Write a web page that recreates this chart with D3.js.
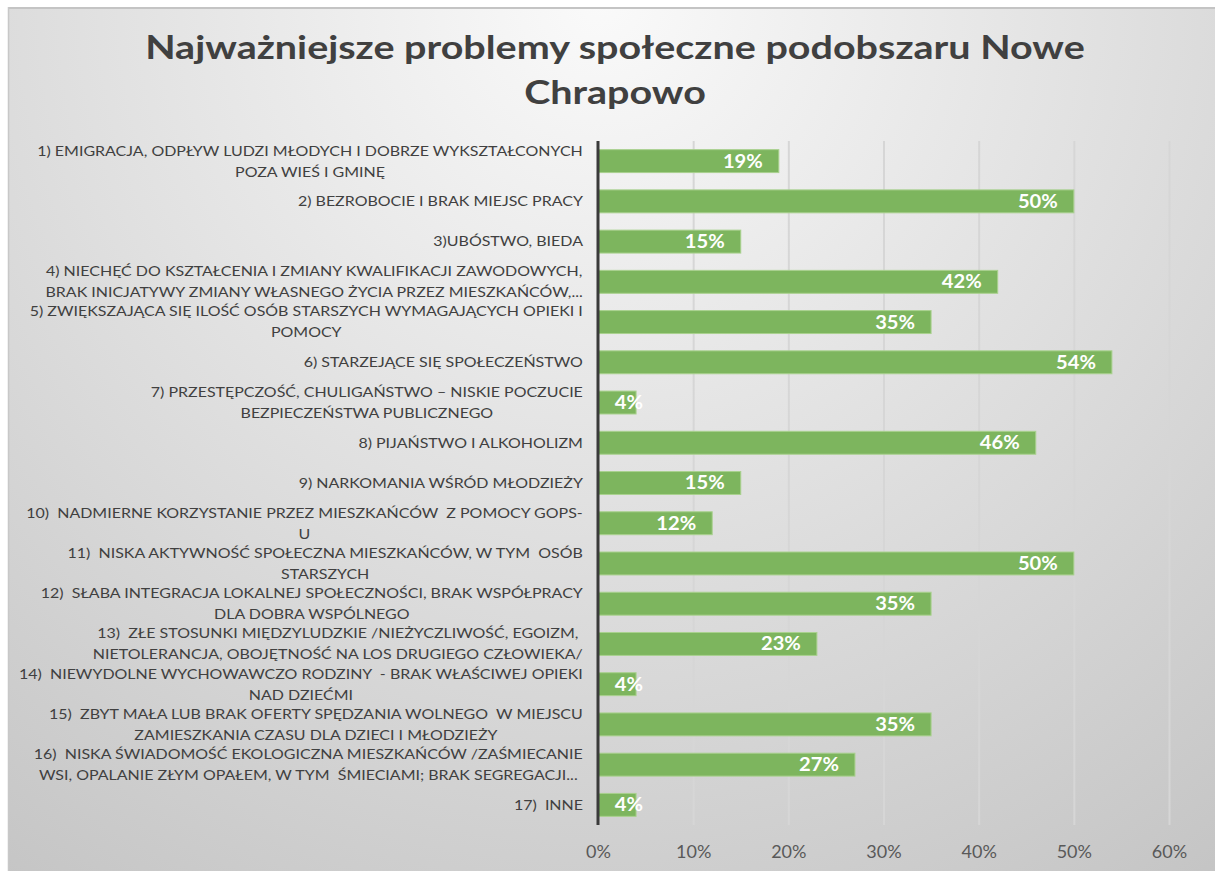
<!DOCTYPE html>
<html>
<head>
<meta charset="utf-8">
<script src="https://cdn.jsdelivr.net/npm/d3@7"></script>
<style>
  body { margin: 0; background: #fff; }
  svg { display: block; }
  .cat { white-space: pre; }
</style>
</head>
<body>
<div id="chart"></div>
<script>
// chart data
const titleLines = ["Najważniejsze problemy społeczne podobszaru Nowe", "Chrapowo"];

const categories = [
    "1) EMIGRACJA, ODPŁYW LUDZI MŁODYCH I DOBRZE WYKSZTAŁCONYCH\nPOZA WIEŚ I GMINĘ",
    "2) BEZROBOCIE I BRAK MIEJSC PRACY",
    "3)UBÓSTWO, BIEDA",
    "4) NIECHĘĆ DO KSZTAŁCENIA I ZMIANY KWALIFIKACJI ZAWODOWYCH,\nBRAK INICJATYWY ZMIANY WŁASNEGO ŻYCIA PRZEZ MIESZKAŃCÓW,...",
    "5) ZWIĘKSZAJĄCA SIĘ ILOŚĆ OSÓB STARSZYCH WYMAGAJĄCYCH OPIEKI I\nPOMOCY",
    "6) STARZEJĄCE SIĘ SPOŁECZEŃSTWO",
    "7) PRZESTĘPCZOŚĆ, CHULIGAŃSTWO – NISKIE POCZUCIE\nBEZPIECZEŃSTWA PUBLICZNEGO",
    "8) PIJAŃSTWO I ALKOHOLIZM",
    "9) NARKOMANIA WŚRÓD MŁODZIEŻY",
    "10)  NADMIERNE KORZYSTANIE PRZEZ MIESZKAŃCÓW  Z POMOCY GOPS-\nU",
    "11)  NISKA AKTYWNOŚĆ SPOŁECZNA MIESZKAŃCÓW, W TYM  OSÓB\nSTARSZYCH",
    "12)  SŁABA INTEGRACJA LOKALNEJ SPOŁECZNOŚCI, BRAK WSPÓŁPRACY\nDLA DOBRA WSPÓLNEGO",
    "13)  ZŁE STOSUNKI MIĘDZYLUDZKIE /NIEŻYCZLIWOŚĆ, EGOIZM,\nNIETOLERANCJA, OBOJĘTNOŚĆ NA LOS DRUGIEGO CZŁOWIEKA/",
    "14)  NIEWYDOLNE WYCHOWAWCZO RODZINY  - BRAK WŁAŚCIWEJ OPIEKI\nNAD DZIEĆMI",
    "15)  ZBYT MAŁA LUB BRAK OFERTY SPĘDZANIA WOLNEGO  W MIEJSCU\nZAMIESZKANIA CZASU DLA DZIECI I MŁODZIEŻY",
    "16)  NISKA ŚWIADOMOŚĆ EKOLOGICZNA MIESZKAŃCÓW /ZAŚMIECANIE\nWSI, OPALANIE ZŁYM OPAŁEM, W TYM  ŚMIECIAMI; BRAK SEGREGACJI...",
    "17)  INNE"
];

const values = [0.19, 0.50, 0.15, 0.42, 0.35, 0.54, 0.04, 0.46, 0.15, 0.12, 0.50, 0.35, 0.23, 0.04, 0.35, 0.27, 0.04];

const xTicks = [0, 0.1, 0.2, 0.3, 0.4, 0.5, 0.6];

const W = 1215, H = 871;
const plot = {left: 598, right: 1169, top: 141, bottom: 825};
const font = "Lato, 'Open Sans', sans-serif";

let svg = d3.select("#chart").append("svg")
    .attr("width", W)
    .attr("height", H);

let defs = svg.append("defs");

// background, light at top centre, darker towards the bottom corners
let bg = defs.append("radialGradient")
    .attr("id", "bgGrad")
    .attr("gradientUnits", "userSpaceOnUse")
    .attr("cx", 600).attr("cy", 0).attr("r", 1100);
bg.append("stop").attr("offset", 0).attr("stop-color", "#fafafa");
bg.append("stop").attr("offset", 1).attr("stop-color", "#c3c3c3");

let gridGrad = defs.append("linearGradient")
    .attr("id", "gridGrad")
    .attr("gradientUnits", "userSpaceOnUse")
    .attr("x1", 0).attr("y1", plot.top).attr("x2", 0).attr("y2", plot.bottom);
gridGrad.append("stop").attr("offset", 0).attr("stop-color", "#d6d6d6");
gridGrad.append("stop").attr("offset", 1).attr("stop-color", "#8c8c8c");

svg.append("rect")
    .attr("x", 8).attr("y", 7)
    .attr("width", W - 8).attr("height", H - 7)
    .attr("fill", "url(#bgGrad)");

// frame lines top and left
svg.append("line")
    .attr("x1", 8).attr("x2", W).attr("y1", 8).attr("y2", 8)
    .attr("stroke", "#c4c4c4").attr("stroke-width", 2);
svg.append("line")
    .attr("x1", 8.5).attr("x2", 8.5).attr("y1", 7).attr("y2", H)
    .attr("stroke", "#c8c8c8").attr("stroke-width", 1.5);

// title (stretched to the width it has in the original)
let title = svg.append("g").attr("class", "title");
let titleText = title.selectAll("text")
    .data(titleLines)
    .enter()
    .append("text")
    .attr("x", 0)
    .attr("y", (d, i) => i * 45)
    .attr("text-anchor", "middle")
    .attr("font-family", font)
    .attr("font-weight", "bold")
    .attr("font-size", 32)
    .attr("fill", "#404040")
    .text(d => d);
let tw = titleText.nodes()[0].getComputedTextLength();
let sx = 940 / tw;
title.attr("transform", `translate(615, 59) scale(${sx}, 1)`);

// scales
let x = d3.scaleLinear()
    .domain([0, 0.6])
    .range([plot.left, plot.right]);

let y = d3.scaleBand()
    .domain(categories)
    .range([plot.top, plot.bottom])
    .paddingInner(0.43)
    .paddingOuter(0.215);

// gridlines
svg.append("g")
    .attr("class", "grid")
    .attr("transform", `translate(0, ${plot.bottom})`)
    .call(d3.axisBottom(x).tickValues(xTicks.slice(1)).tickSize(-(plot.bottom - plot.top)).tickFormat(""))
    .call(g => g.select(".domain").remove())
    .call(g => g.selectAll("line").attr("stroke", "url(#gridGrad)").attr("stroke-width", 2));

// x tick labels
svg.append("g")
    .attr("class", "x-axis")
    .attr("transform", `translate(0, ${plot.bottom})`)
    .call(d3.axisBottom(x).tickValues(xTicks).tickSize(0).tickPadding(20).tickFormat(d3.format(".0%")))
    .call(g => g.select(".domain").remove())
    .call(g => g.selectAll("text")
        .attr("font-family", font)
        .attr("font-size", 18)
        .attr("fill", "#595959"));

// bars
svg.selectAll(".bar")
    .data(values)
    .enter()
    .append("rect")
    .attr("class", "bar")
    .attr("x", x(0))
    .attr("y", (d, i) => y(categories[i]))
    .attr("width", d => x(d) - x(0))
    .attr("height", y.bandwidth())
    .attr("fill", "#7db55e")
    .attr("stroke", "#a9d18e")
    .attr("stroke-width", 1);

// y axis line
svg.append("line")
    .attr("x1", x(0)).attr("x2", x(0))
    .attr("y1", plot.top).attr("y2", plot.bottom)
    .attr("stroke", "#3a3a3a").attr("stroke-width", 3);

// data labels, inside end, a bit stretched like the original
svg.selectAll(".val")
    .data(values)
    .enter()
    .append("text")
    .attr("class", "val")
    .attr("transform", (d, i) => {
        let ex = Math.max(x(d) - 16, x(0) + 45);
        let cy = y(categories[i]) + y.bandwidth() / 2;
        return `translate(${ex}, ${cy}) scale(1.12, 1)`;
    })
    .attr("dy", "0.36em")
    .attr("text-anchor", "end")
    .attr("font-family", font)
    .attr("font-weight", "bold")
    .attr("font-size", 18)
    .attr("fill", "#ffffff")
    .text(d => Math.round(d * 100) + "%");

// category labels, wrapped lines centred, block aligned right
let labelRight = 583;
let lineH = 21;
let labels = svg.selectAll(".cat")
    .data(categories)
    .enter()
    .append("text")
    .attr("class", "cat")
    .attr("text-anchor", "middle")
    .attr("font-family", font)
    .attr("font-size", 14)
    .attr("fill", "#404040");

let widths = [];
labels.each(function(d) {
    let t = d3.select(this);
    let lines = d.split("\n");
    let cy = y(d) + y.bandwidth() / 2;
    let y0 = cy - (lines.length - 1) * lineH / 2;
    lines.forEach((l, i) => {
        t.append("tspan")
            .attr("y", y0 + i * lineH)
            .attr("dy", "0.35em")
            .text(l);
    });
    let w = d3.max(t.selectAll("tspan").nodes(), n => n.getComputedTextLength());
    widths.push(w);
});

// horizontal stretch so the first label is as wide as in the original
let lsx = 546 / widths[0];
labels.each(function(d, i) {
    let t = d3.select(this);
    t.selectAll("tspan").attr("x", -widths[i] / 2);
    t.attr("transform", `translate(${labelRight}, 0) scale(${lsx}, 1)`);
});
</script>
</body>
</html>
